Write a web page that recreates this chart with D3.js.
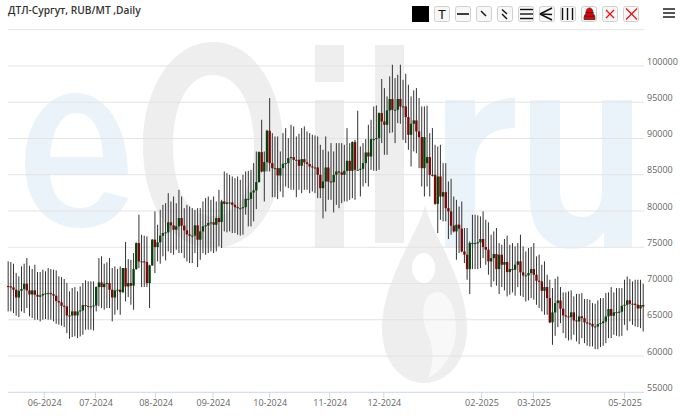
<!DOCTYPE html>
<html><head><meta charset="utf-8">
<script src="https://cdnjs.cloudflare.com/ajax/libs/d3/7.8.5/d3.min.js"></script>
<style>html,body{margin:0;padding:0;background:#fff}svg{display:block}text{font-family:"Open Sans",sans-serif}</style>
</head><body><div id="c"></div>
<script>
const title="ДТЛ-Сургут, RUB/MT ,Daily";
const yTicks=[55000,60000,65000,70000,75000,80000,85000,90000,95000,100000,105000];
const xTickLabels=["06-2024","07-2024","08-2024","09-2024","10-2024","11-2024","12-2024","02-2025","03-2025","05-2025"];
const xTickBars=[13.5,32.75,55.25,76.75,98,120.5,140.8,177.4,196.9,231];
const highs=[73060,72960,72730,71450,70990,72370,72730,73520,72460,72000,
72600,71580,71580,71910,71680,72140,72000,71910,71810,70990,
70890,70620,70070,68920,69380,69510,68920,69610,70070,70430,
70300,70300,70300,69610,73520,73750,72730,72920,73520,72140,
72360,71990,72360,72130,75720,73370,73280,74200,75670,79490,
76730,76590,76500,72590,76130,79950,78110,80160,80850,81080,
82460,81310,82000,81080,82920,82000,80390,80850,80620,80390,
80160,80390,80390,81310,81770,82000,81540,82000,81310,82920,
81540,85450,85220,84990,84760,84530,84760,84300,84990,85450,
85540,85680,86600,88210,88210,92580,88210,91200,95570,90740,
90280,90280,88210,90740,91430,90050,91890,91660,90280,90650,
91430,91660,90970,90740,90510,90420,90280,89130,88440,90280,
88210,89360,88210,89360,89360,89360,89130,91430,89360,89590,
89820,93830,88900,89360,89910,91890,92580,94420,94560,93590,
98200,96950,95800,98560,100170,98330,98790,100170,98100,98930,
97410,95800,96630,96950,95570,94420,94420,94510,90740,91430,
89130,88900,89130,86600,86600,84070,84440,82000,81540,80620,
81310,77650,77650,75810,79490,79490,79400,79260,79950,78800,
78430,76730,77190,77650,75580,75350,76140,76600,75350,75580,
75120,75580,76730,75120,74430,74890,75030,75580,73740,73970,
72590,73050,71210,70520,69370,70660,70980,69510,68780,68780,
68910,69050,68220,68590,68590,68680,67860,67860,67760,67300,
67210,67670,67990,67990,68680,68780,69510,68780,69370,69370,
69370,70520,70980,70610,70290,70520,70520,70520,69970];
const lows=[66160,66160,65930,65560,65370,66160,65930,66620,65470,65240,
65010,65010,64780,65010,65100,65010,65010,64780,64450,64320,
64180,63990,63170,62380,62610,62710,62480,62710,62940,63630,
63630,63630,63530,66160,66850,66620,66390,66620,66620,64780,
65700,66380,65690,68680,67530,68130,67070,66380,71900,72130,
69510,69510,69510,66610,72450,71440,73050,72730,73740,73190,
74430,74200,73970,74660,74200,74200,73510,73050,72820,72820,
74200,72270,73280,74200,73970,74200,74430,74200,74430,75120,
74890,77190,77050,77190,76960,76960,76730,76600,76730,79490,
77880,77880,78570,80260,83940,85320,81310,85450,85450,81900,
81900,81640,82690,81900,83380,83150,82920,82920,81900,82920,
82460,82920,82920,82460,82690,82460,81770,81770,78980,79930,
81540,81540,79800,80850,80390,81080,81310,81310,81540,81770,
81540,85680,82000,83380,83840,83380,85680,85540,85540,85680,
89360,87750,87750,90740,90830,89360,92120,92030,89820,89360,
88440,86140,88210,87980,85910,83380,82000,83380,82000,84760,
80850,76960,78780,78570,78570,76130,76730,77050,73280,74200,
74300,72820,70520,68540,71990,71990,71990,72130,73510,72590,
71210,69510,70290,69700,68540,69510,69050,68220,68450,68780,
68320,69510,68320,68130,67530,67670,67990,67760,67070,66610,
66150,65690,65690,64540,61550,62790,63990,64540,63160,62470,
62150,62240,62930,62010,61640,62470,61780,61420,61320,61320,
60950,60950,61230,61420,61780,62470,62470,62930,62790,62700,
62790,64310,63530,64770,64310,64080,63990,63850,63390];
const closes=[69600,69460,69140,68080,69000,69240,69970,69050,68500,69050,
68450,68180,68360,68540,68640,68680,68540,68320,67580,67400,
66930,66840,65600,65600,66150,65600,66150,66290,67030,66890,
66840,66840,66980,69510,70150,69510,69970,70060,69140,68080,
69050,69140,68820,72130,69600,70060,69700,71990,75580,73050,
73050,72960,70060,72500,76040,75030,75680,76600,76960,77050,
78430,78020,77420,77880,79030,77980,77330,76780,76600,76600,
78020,76040,77190,77880,78020,78340,78430,78110,79030,78480,
81310,80990,81170,81170,80850,80530,80390,80390,80530,81680,
81680,82550,82830,83980,88120,85450,86740,91060,86600,85910,
85910,84900,85910,86510,86600,87290,87430,87060,87060,86240,
87150,86700,86470,86140,86000,86000,84990,83150,84070,86000,
84070,83980,84990,85450,85320,84990,85540,86920,85540,89500,
85680,85680,85820,86600,88070,87520,89910,89910,90050,93500,
92350,91890,93870,95440,93960,93960,95440,94420,94420,92950,
90510,92030,92490,90970,90190,85910,90190,87430,84990,84990,
80990,84760,82000,82600,80390,79950,77980,77190,78110,77560,
74430,73970,71990,75580,75580,75580,75680,76140,75030,74660,
73050,73510,74060,71990,73970,72590,72960,71580,71990,71900,
72590,73050,71540,71120,71120,71440,71990,71210,70380,70290,
69000,69510,67990,64640,66020,67300,67670,66520,65600,65460,
65370,66020,64910,64770,65460,65230,64640,64500,64450,64080,
64080,64400,64540,64770,65460,66480,65550,66020,66060,66110,
66930,67070,67670,67210,67210,67070,66570,67030,66840];
const opens=[69650,69600,69460,69140,68080,69000,69240,69970,69050,68500,
69050,68450,68180,68360,68540,68640,68680,68540,68320,67580,
67400,66930,66840,65600,65600,66150,65600,66150,66290,67030,
66890,66840,66840,66980,69510,70150,69510,69970,70060,69140,
68080,69050,69140,68820,72130,69600,70060,69700,71990,75580,
73050,73050,72960,70060,72500,76040,75030,75680,76600,76960,
77050,78430,78020,77420,77880,79030,77980,77330,76780,76600,
76600,78020,76040,77190,77880,78020,78340,78430,78110,79030,
78480,81310,80990,81170,81170,80850,80530,80390,80390,80530,
81680,81680,82550,82830,83980,88120,85450,86740,91060,86600,
85910,85910,84900,85910,86510,86600,87290,87430,87060,87060,
86240,87150,86700,86470,86140,86000,86000,84990,83150,84070,
86000,84070,83980,84990,85450,85320,84990,85540,86920,85540,
89500,85680,85680,85820,86600,88070,87520,89910,89910,90050,
93500,92350,91890,93870,95440,93960,93960,95440,94420,94420,
92950,90510,92030,92490,90970,90190,85910,86600,87430,84990,
84990,80990,84760,82000,82600,80390,79950,77980,77190,78110,
77560,74430,73970,71990,75580,75580,75580,75680,76140,75030,
74660,73050,73510,74060,71990,73970,72590,72960,71580,71990,
71900,72590,73050,71540,71120,71120,71440,71990,71210,70380,
70290,69000,69510,67990,64640,66020,67300,67670,66520,65600,
65460,65370,66020,64910,64770,65460,65230,64640,64500,64450,
64080,64080,64400,64540,64770,65460,66480,65550,66020,66060,
66110,66930,67070,67670,67210,67210,67070,66570,67030];

const W=680,H=418,L=8,R=644,upC="#0b4d12",downC="#8a0c0c";
const svg=d3.select("#c").append("svg").attr("width",W).attr("height",H);
const x=d3.scaleLinear().domain([0,closes.length-1]).range([8.16,643.2]);
const y=d3.scaleLinear().domain([55000,105000]).range([392.3,29.7]);

// watermark
const wm=svg.append("g");
const blue="#ebf3fa",gray="#eeeeee";
wm.append("path").attr("fill",blue).attr("fill-rule","evenodd")
 .attr("d","M128 175 C128 125 105 93 76 93 C46 93 25 125 25 162 C25 205 48 228 80 228 C102 228 120 218 128 198 L104 192 C98 203 91 208 80 208 C63 208 52 196 50 175 Z M50 157 C52 128 63 113 76 113 C91 113 102 128 103 157 Z");
wm.append("path").attr("fill",gray).attr("fill-rule","evenodd")
 .attr("d","M213 42 C255 42 283 90 283 145 C283 205 255 248 213 248 C171 248 143 205 143 145 C143 90 171 42 213 42 Z M213 75 C188 75 173 105 173 145 C173 190 188 216 213 216 C238 216 254 190 254 145 C254 105 238 75 213 75 Z");
wm.append("rect").attr("fill",gray).attr("x",315).attr("y",45).attr("width",29).attr("height",37);
wm.append("rect").attr("fill",gray).attr("x",315).attr("y",100).attr("width",29).attr("height",148);
wm.append("rect").attr("fill",gray).attr("x",375).attr("y",45).attr("width",29).attr("height",198);
wm.append("path").attr("fill",blue).attr("d","M445 100 L475 100 L475 118 C482 105 495 98 515 98 L515 128 C490 128 476 140 475 165 L475 248 L445 248 Z");
wm.append("path").attr("fill",blue).attr("d","M530 100 L560 100 L560 190 C560 208 570 217 582 217 C594 217 602 208 602 190 L602 100 L632 100 L632 248 L604 248 L604 232 C596 243 585 249 572 249 C546 249 530 230 530 198 Z");
wm.append("path").attr("fill",gray).attr("fill-rule","evenodd")
 .attr("d","M425 205 C432 235 467 280 467 328 C467 362 447 383 424 383 C401 383 382 362 382 328 C382 280 418 235 425 205 Z M424 253 C416 253 412 261 412 268 C412 276 417 283 424 283 C431 283 435 276 435 268 C435 261 431 253 424 253 Z");
wm.append("path").attr("fill","#f8f8f8").attr("d","M437 292 C450 292 456 310 456 330 C456 352 442 372 428 378 C435 362 433 345 428 335 C424 325 422 318 424 305 C426 297 431 292 437 292 Z");

// grid
svg.append("g").selectAll("line").data(yTicks).join("line")
 .attr("x1",L).attr("x2",R).attr("y1",d=>y(d)).attr("y2",d=>y(d))
 .attr("stroke",d=>d===55000?"#ccd6eb":"#e3e3e3").attr("stroke-width",1);
svg.append("g").selectAll("text").data(yTicks.filter(d=>d<105000)).join("text")
 .attr("x",647).attr("y",d=>y(d)-4.5).attr("dy","0.35em").attr("font-size",9).attr("fill","#666").text(d=>d);
svg.append("g").selectAll("line").data(xTickBars).join("line")
 .attr("x1",d=>x(d)).attr("x2",d=>x(d)).attr("y1",392.3).attr("y2",398).attr("stroke","#ccd6eb");
svg.append("g").selectAll("text").data(xTickLabels).join("text")
 .attr("x",(d,i)=>x(xTickBars[i])+.5).attr("y",402.5).attr("dy","0.35em").attr("text-anchor","middle").attr("font-size",9).attr("fill","#666").text(d=>d);

// candles
const idx=d3.range(closes.length);
svg.append("g").selectAll("line").data(idx).join("line")
 .attr("x1",i=>x(i)).attr("x2",i=>x(i)).attr("y1",i=>y(highs[i])).attr("y2",i=>y(lows[i]))
 .attr("stroke","#333").attr("stroke-width",1);
svg.append("g").selectAll("rect").data(idx).join("rect")
 .attr("x",i=>x(i)-1.2).attr("width",2.4)
 .attr("y",i=>y(Math.max(opens[i],closes[i])))
 .attr("height",i=>Math.max(1,Math.abs(y(opens[i])-y(closes[i]))))
 .attr("fill",i=>closes[i]>=opens[i]?upC:downC);
svg.append("g").selectAll("line").data(idx).join("line")
 .attr("x1",i=>x(i)).attr("x2",i=>x(i))
 .attr("y1",i=>y(Math.max(opens[i],closes[i]))).attr("y2",i=>y(Math.min(opens[i],closes[i])))
 .attr("stroke",i=>closes[i]>=opens[i]?"#052b08":"#4a0606").attr("stroke-width",0.6);

// title
svg.append("text").attr("x",8).attr("y",14).attr("font-size",10.2).attr("font-weight",600).attr("fill","#333").text(title);

// toolbar
const tb=svg.append("g");
tb.append("rect").attr("x",412).attr("y",6).attr("width",17).attr("height",16).attr("fill","#000");
const bx=[434,455,476,497,518,539,560,581,602,623];
tb.selectAll("rect.b").data(bx).join("rect").attr("class","b").attr("x",d=>d+.5).attr("y",6.5).attr("width",15).attr("height",15).attr("rx",2)
 .attr("fill","#f7f7f7").attr("stroke","#d0d0d0");
tb.append("text").attr("x",442).attr("y",18.5).attr("text-anchor","middle").attr("font-size",13).attr("font-weight",400).attr("fill","#111").style("font-family","'Liberation Sans'").text("T");
const ln=(a,b,c,d,col="#111",w=1.4)=>tb.append("line").attr("x1",a).attr("y1",b).attr("x2",c).attr("y2",d).attr("stroke",col).attr("stroke-width",w);
ln(457,14,469,14,"#111",1.6);
ln(481,11,486,16);
ln(502,9.5,507,14);ln(502,14,507,19);
ln(520,9.5,533,9.5);ln(520,14,533,14);ln(520,18.5,533,18.5);
ln(552,8,540,14);ln(540,14,552,14.5);ln(540,14,552,20);
ln(562.5,8,562.5,20);ln(567.5,8,567.5,20);ln(572.5,8,572.5,20);
tb.append("path").attr("fill","#f00101").attr("stroke","#222").attr("stroke-width",.7)
 .attr("d","M584 19.5 C584 16 585 14 586.5 13 C585.5 11 587 8 589.5 8 C592 8 593.5 11 592.5 13 C594 14 595 16 595 19.5 Z");
ln(585,12.8,594,12.8,"#222",.8);ln(584.3,16.2,594.7,16.2,"#222",.8);
ln(606,10,614,18,"#f01010",1.2);ln(614,10,606,18,"#f01010",1.2);
ln(626,8.5,637,19.5,"#f01010",1.3);ln(637,8.5,626,19.5,"#f01010",1.3);
[9,13,17].forEach(v=>ln(663,v,675,v,"#555",2));
</script></body></html>
